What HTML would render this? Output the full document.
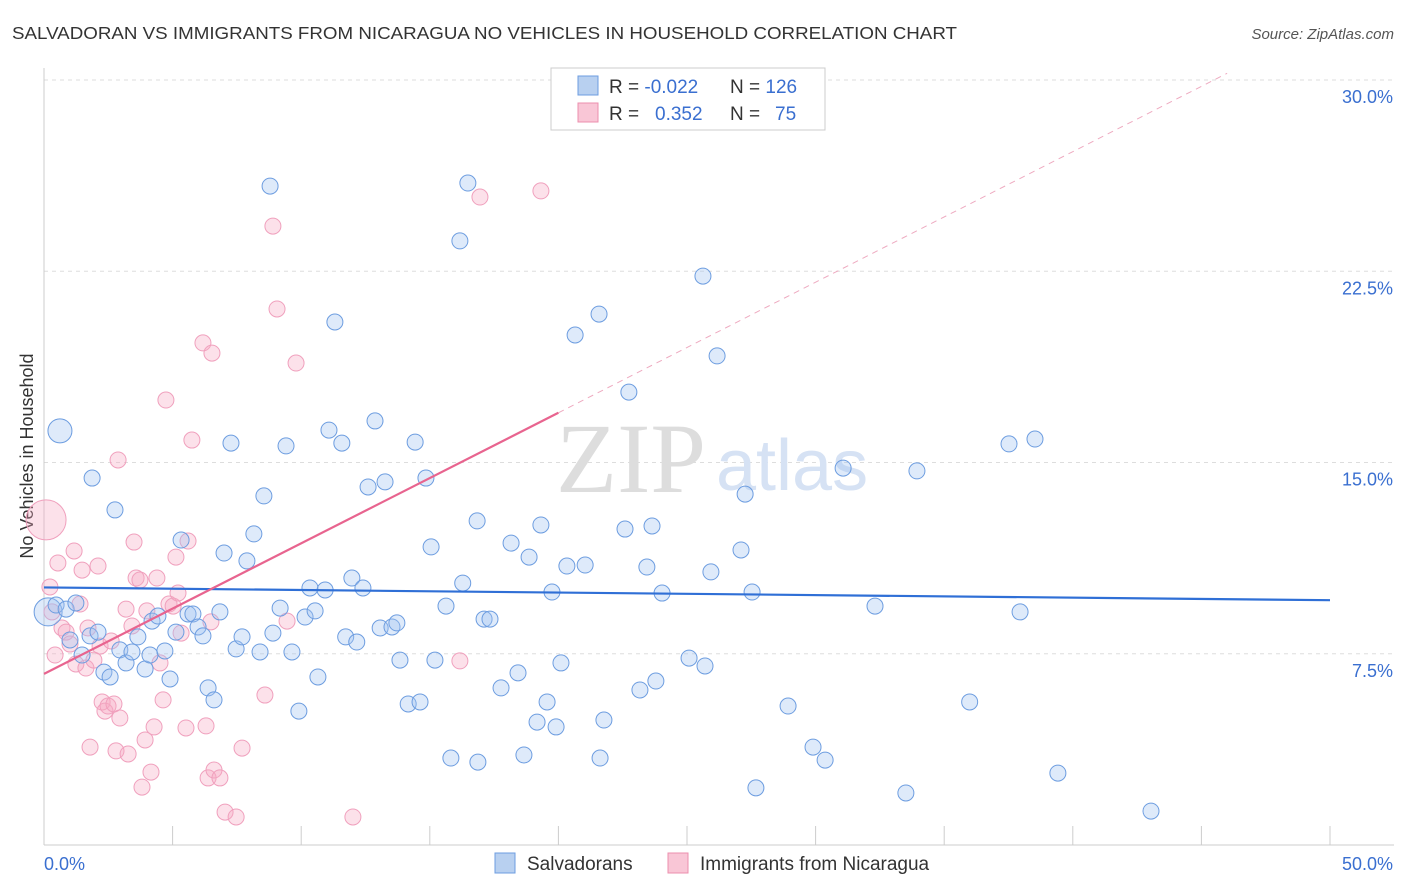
<!DOCTYPE html>
<html><head><meta charset="utf-8">
<style>
body{margin:0;background:#fff;font-family:"Liberation Sans",sans-serif;}
svg{display:block}
</style></head>
<body>
<svg id="chart" width="1406" height="892">
<text x="12" y="39" font-size="17.5" fill="#333" textLength="945" lengthAdjust="spacingAndGlyphs">SALVADORAN VS IMMIGRANTS FROM NICARAGUA NO VEHICLES IN HOUSEHOLD CORRELATION CHART</text>
<text x="1394" y="39" font-size="15" fill="#555" font-style="italic" text-anchor="end">Source: ZipAtlas.com</text>
<text transform="translate(33,456) rotate(-90)" font-size="18" fill="#333" text-anchor="middle">No Vehicles in Household</text>
<g id="grid"></g>
<text x="556" y="492" font-size="100" font-family="Liberation Serif,serif" fill="#ddd">ZIP</text>
<text x="716" y="490" font-size="72" fill="#d6e2f4">atlas</text>
<g id="marks"></g>
<g>
<rect x="551" y="68" width="274" height="62" fill="#fff" stroke="#ccc"/>
<rect x="578" y="76" width="20" height="19" fill="#b8d0f0" stroke="#6d9de0"/>
<rect x="578" y="103" width="20" height="19" fill="#f9c6d6" stroke="#ec8fae"/>
<text x="609" y="93" font-size="19" fill="#333">R = <tspan fill="#3a6fd0">-0.022</tspan><tspan x="730">N = </tspan><tspan fill="#3a6fd0">126</tspan></text>
<text x="609" y="120" font-size="19" fill="#333">R = <tspan x="655" fill="#3a6fd0">0.352</tspan><tspan x="730">N = </tspan><tspan x="775" fill="#3a6fd0">75</tspan></text>
</g>
<g>
<rect x="495" y="853" width="20" height="20" fill="#b8d0f0" stroke="#6d9de0"/>
<text x="527" y="870" font-size="19" fill="#333">Salvadorans</text>
<rect x="668" y="853" width="20" height="20" fill="#f9c6d6" stroke="#ec8fae"/>
<text x="700" y="870" font-size="19" fill="#333">Immigrants from Nicaragua</text>
</g>
</svg>
<script>
const yTicks=[7.5,15,22.5,30];
const yTickLabels=["7.5%","15.0%","22.5%","30.0%"];
const xTicks=[0,5,10,15,20,25,30,35,40,45,50];
const blueX=[0.16,0.47,0.62,0.86,1.24,1.87,1.01,1.48,1.79,2.1,2.33,2.57,2.76,2.95,3.19,3.42,3.65,3.93,4.12,4.2,4.43,4.7,4.9,5.13,5.33,5.6,5.79,5.99,6.18,6.38,6.61,6.84,7.0,7.27,7.47,7.7,7.89,8.16,8.4,8.55,8.79,8.9,9.18,9.41,9.64,9.91,10.15,10.34,10.54,10.65,10.93,11.08,11.31,11.58,11.73,11.97,12.16,12.4,12.6,12.87,13.07,13.26,13.53,13.72,13.84,14.16,14.43,14.62,14.85,15.05,15.2,15.63,15.82,16.17,16.28,16.48,16.84,16.87,17.11,17.34,17.77,18.16,18.43,18.66,18.86,19.17,19.32,19.56,19.75,19.91,20.1,20.33,20.65,21.04,21.58,21.62,21.77,22.59,22.74,23.17,23.44,23.64,23.79,24.03,25.08,25.62,25.7,25.93,26.17,27.1,27.26,27.53,27.68,28.93,29.9,30.37,31.07,32.31,33.51,33.94,35.99,37.52,37.95,38.53,39.42,43.04];
const blueY=[9.14,9.41,16.24,9.25,9.49,14.39,8.04,7.45,8.2,8.35,6.78,6.59,13.14,7.65,7.14,7.57,8.16,6.9,7.45,8.78,8.98,7.61,6.51,8.35,11.96,9.06,9.06,8.55,8.2,6.16,5.69,9.14,11.45,15.76,7.69,8.16,11.14,12.2,7.57,13.69,25.84,8.31,9.29,15.65,7.57,5.25,8.94,10.08,9.18,6.59,10.0,16.27,20.51,15.76,8.16,10.47,7.96,10.08,14.04,16.63,8.51,14.24,8.55,8.71,7.25,5.53,15.8,5.61,14.39,11.69,7.25,9.37,3.41,23.69,10.27,25.96,12.71,3.25,8.86,8.86,6.16,11.84,6.75,3.53,11.29,4.82,12.55,5.61,9.92,4.63,7.14,10.94,20.0,10.98,20.82,3.41,4.9,12.39,17.76,6.08,10.9,12.51,6.43,9.88,7.33,22.31,7.02,10.71,19.18,11.57,13.76,9.92,2.24,5.45,3.84,3.33,14.78,9.37,2.04,14.67,5.61,15.73,9.14,15.92,2.82,1.33];
const pinkX=[0.08,0.23,0.31,0.43,0.54,0.7,0.86,1.01,1.17,1.24,1.4,1.48,1.63,1.71,1.79,1.94,2.1,2.18,2.26,2.37,2.49,2.61,2.72,2.8,2.88,2.95,3.19,3.27,3.42,3.5,3.58,3.73,3.81,3.93,4.0,4.16,4.28,4.39,4.51,4.63,4.74,4.86,5.02,5.13,5.21,5.33,5.52,5.6,5.75,6.18,6.3,6.38,6.49,6.53,6.61,6.84,7.04,7.47,7.7,8.59,8.9,9.06,9.45,9.8,12.01,16.17,16.95,19.32];
const pinkY=[12.75,10.12,9.14,7.45,11.06,8.51,8.35,7.88,11.53,7.1,9.45,10.78,6.94,8.51,3.84,7.25,10.94,7.8,5.61,5.25,5.45,8.0,5.53,3.69,15.1,4.98,9.25,3.57,8.59,11.88,10.47,10.39,2.27,4.12,9.18,2.86,4.63,10.47,7.14,5.69,17.45,9.45,9.37,11.29,9.88,8.31,4.59,11.92,15.88,19.69,4.67,2.63,8.75,19.29,2.94,2.63,1.29,1.1,3.8,5.88,24.27,21.02,8.78,18.9,1.1,7.22,25.41,25.65];
const blueLine=[10.1,9.6];
const pinkLine=[6.71,0.512];
const X=v=>44+v*25.72, Y=v=>845-v*25.5;
const NS="http://www.w3.org/2000/svg";
function mk(parent,tag,attrs){const e=document.createElementNS(NS,tag);for(const k in attrs)e.setAttribute(k,attrs[k]);parent.appendChild(e);return e;}
const grid=document.getElementById('grid'), marks=document.getElementById('marks');
yTicks.forEach((t,i)=>{
  const l=mk(grid,'line',{x1:44,x2:1394,y1:Y(t),y2:Y(t),stroke:'#ddd','stroke-dasharray':'4,4'});
  
  
  const tx=mk(grid,'text',{x:1393,y:Y(t)+23,'font-size':18,fill:'#3a6fd0','text-anchor':'end'});
  tx.textContent=yTickLabels[i];
  
  
});
const ax=mk(grid,'line',{x1:44,x2:44,y1:68,y2:845,stroke:'#ccc'});


const bx=mk(grid,'line',{x1:44,x2:1394,y1:845,y2:845,stroke:'#ccc'});


xTicks.forEach(t=>{
  const tk=mk(grid,'line',{x1:X(t),x2:X(t),y1:826,y2:845,stroke:'#ccc'});
  
  
});
const xl0=mk(grid,'text',{x:44,y:870,'font-size':18,fill:'#3a6fd0'});xl0.textContent='0.0%';


const xl1=mk(grid,'text',{x:1393,y:870,'font-size':18,fill:'#3a6fd0','text-anchor':'end'});xl1.textContent='50.0%';


pinkX.forEach((x,i)=>{
  const c=mk(marks,'circle',{cx:X(x),cy:Y(pinkY[i]),r:i===0?20:8,fill:'rgba(246,170,196,0.35)',stroke:'#f0a0bd','stroke-width':1});
  
  
});
blueX.forEach((x,i)=>{
  const r=i===0?14:(i===2?12:8);
  const c=mk(marks,'circle',{cx:X(x),cy:Y(blueY[i]),r:r,fill:'rgba(160,195,240,0.35)',stroke:'#6d9de0','stroke-width':1});
  
  
});
const bl=mk(marks,'line',{x1:X(0),y1:Y(blueLine[0]),x2:X(50),y2:Y(blueLine[1]),stroke:'#2f6fd6','stroke-width':2.2});


const pl=mk(marks,'line',{x1:X(0),y1:Y(pinkLine[0]),x2:X(20),y2:Y(pinkLine[0]+20*pinkLine[1]),stroke:'#e8648f','stroke-width':2.2});


const pd=mk(marks,'line',{x1:X(20),y1:Y(pinkLine[0]+20*pinkLine[1]),x2:X(46),y2:Y(pinkLine[0]+46*pinkLine[1]),stroke:'#eeaac0','stroke-width':1,'stroke-dasharray':'6,5'});


</script>
</body></html>
